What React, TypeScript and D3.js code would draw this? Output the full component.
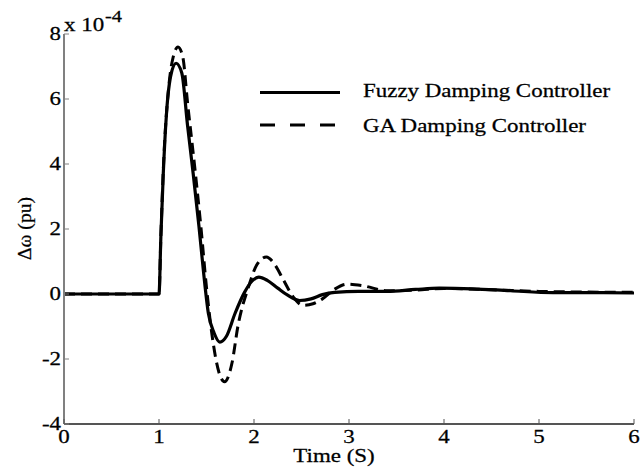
import React from "react";
import * as d3 from "d3";

const fuzzyT = [0, 0.5, 1.0, 1.02, 1.045, 1.08, 1.13, 1.18, 1.24, 1.30, 1.36, 1.42, 1.47, 1.52, 1.58, 1.64, 1.71, 1.8, 1.9, 1.98, 2.05, 2.14, 2.25, 2.35, 2.48, 2.6, 2.72, 2.85, 3.1, 3.4, 3.7, 3.95, 4.3, 4.7, 5.15, 5.6, 6.0];
const fuzzyV = [0, 0, 0, 1.8, 3.7, 5.6, 6.8, 7.1, 6.8, 5.2, 3.7, 2.1, 0.64, -0.6, -1.2, -1.48, -1.3, -0.6, 0.05, 0.4, 0.52, 0.42, 0.18, -0.03, -0.2, -0.15, -0.02, 0.05, 0.08, 0.08, 0.14, 0.18, 0.16, 0.1, 0.04, 0.04, 0.03];

const gaT = [0, 0.5, 1.0, 1.02, 1.045, 1.1, 1.15, 1.2, 1.25, 1.3, 1.38, 1.44, 1.5, 1.56, 1.63, 1.69, 1.77, 1.83, 1.94, 2.03, 2.13, 2.22, 2.31, 2.41, 2.52, 2.62, 2.72, 2.85, 2.98, 3.15, 3.4, 3.7, 4.0, 4.5, 5.0, 5.5, 6.0];
const gaV = [0, 0, 0, 1.8, 3.8, 6.3, 7.3, 7.6, 7.3, 5.9, 3.8, 2.1, 0.2, -1.3, -2.4, -2.7, -2.1, -1.0, 0.2, 0.9, 1.14, 0.9, 0.43, -0.08, -0.35, -0.3, -0.15, 0.15, 0.3, 0.25, 0.1, 0.12, 0.17, 0.13, 0.08, 0.06, 0.05];

const xTicks = [0, 1, 2, 3, 4, 5, 6];
const yTicks = [-4, -2, 0, 2, 4, 6, 8];
const seriesNames = ["Fuzzy Damping Controller", "GA Damping Controller"];
const xLabel = "Time (S)";
const yLabel = "\u0394\u03c9 (pu)";

const FONT = "Liberation Serif, Times New Roman, serif";
const SX = 1.275;

function SText({ x, y, anchor = "start", size = 18, children }: any) {
  return (
    <text
      transform={`translate(${x},${y}) scale(${SX},1)`}
      textAnchor={anchor}
      fontFamily={FONT}
      fontSize={size}
      fill="#000"
      stroke="#000"
      strokeWidth={0.25}
    >
      {children}
    </text>
  );
}

export default function App() {
  const x = d3.scaleLinear().domain([0, 6]).range([64, 634]);
  const y = d3.scaleLinear().domain([-4, 8]).range([424, 34]);

  const mk = (ts: number[], vs: number[]) =>
    d3
      .line<number>()
      .x((_, i) => x(ts[i]))
      .y((v) => y(v))
      .curve(d3.curveMonotoneX)(vs) as string;

  const fuzzyPath = mk(fuzzyT, fuzzyV);
  const gaPath = mk(gaT, gaV);

  return (
    <svg
      width={641}
      height={469}
      style={{ position: "absolute", left: 0, top: 0, background: "#fff" }}
    >
      <rect x={0} y={0} width={641} height={469} fill="#fff" />
      {/* curves */}
      <path d={gaPath} fill="none" stroke="#000" strokeWidth={3} strokeDasharray="11,6" />
      <path d={fuzzyPath} fill="none" stroke="#000" strokeWidth={3.2} />

      {/* axes */}
      <line x1={64} x2={64} y1={y(8)} y2={y(-4)} stroke="#808080" strokeWidth={2} />
      <line x1={64} x2={x(6)} y1={y(-4)} y2={y(-4)} stroke="#555" strokeWidth={1.8} />
      {yTicks.map((t) => (
        <g key={"y" + t}>
          <line x1={64} x2={69} y1={y(t)} y2={y(t)} stroke="#808080" strokeWidth={1} />
          <SText x={61} y={y(t) + 6} anchor="end">
            {t}
          </SText>
        </g>
      ))}
      {xTicks.map((t) => (
        <g key={"x" + t}>
          <line x1={x(t)} x2={x(t)} y1={y(-4)} y2={y(-4) - 5} stroke="#555" strokeWidth={1} />
          <SText x={x(t)} y={443} anchor="middle">
            {t}
          </SText>
        </g>
      ))}
      <SText x={64} y={31}>x 10</SText>
      <SText x={105} y={22} size={16}>-4</SText>

      <SText x={334} y={462} anchor="middle">
        {xLabel}
      </SText>
      <text
        transform={`translate(31,228.5) rotate(-90)`}
        textAnchor="middle"
        fontFamily={FONT}
        fontSize={18}
        textLength={63}
        lengthAdjust="spacingAndGlyphs"
        fill="#000"
        stroke="#000"
        strokeWidth={0.25}
      >
        {yLabel}
      </text>

      {/* legend */}
      <line x1={260} x2={340} y1={92.5} y2={92.5} stroke="#000" strokeWidth={3.2} />
      <line x1={260} x2={340} y1={125} y2={125} stroke="#000" strokeWidth={3.2} strokeDasharray="15,15" />
      <SText x={363} y={97}>{seriesNames[0]}</SText>
      <SText x={363} y={132}>{seriesNames[1]}</SText>
    </svg>
  );
}
